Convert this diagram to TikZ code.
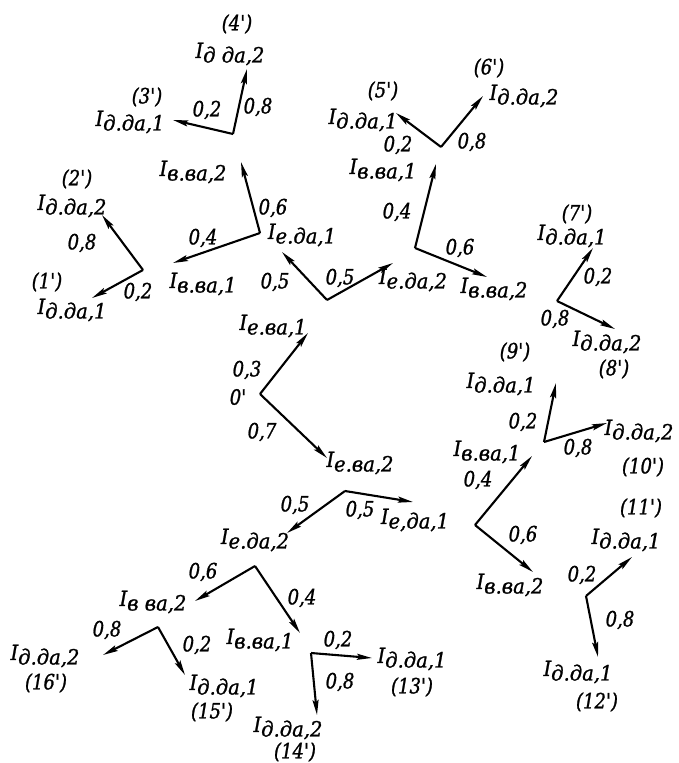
\documentclass[tikz,border=0pt]{standalone}
\usepackage{fontspec}
\setmainfont{DejaVu Serif}
\newfontfamily\gostfont{DejaVu Serif}[FakeBold=1.2]
\usetikzlibrary{arrows.meta}
\newcommand{\Lb}[1]{\scalebox{0.93}[1]{I\raisebox{-4.5pt}{#1}}}
\newcommand{\Nm}[1]{\scalebox{0.86}[1]{#1}}
\begin{document}
\begin{tikzpicture}[x=1pt,y=-1pt,
  arr/.style={line width=2.1pt,-{Stealth[length=15pt,width=6pt,inset=2.5pt]}},
  lab/.style={font=\gostfont\fontsize{21}{24}\selectfont\itshape,inner sep=0pt},
  num/.style={font=\gostfont\fontsize{21}{24}\selectfont\itshape,inner sep=0pt}]
\useasboundingbox (0,0) rectangle (679,763);
% ---------- O'
\coordinate (vA) at (260,394);
\coordinate (tA1) at (308,333);
\coordinate (tA2) at (327,458);
\draw[arr] (vA) -- (tA1);
\draw[arr] (vA) -- (tA2);
\node[num] (nA1) at (247,370) {\Nm{0,3}};
\node[num] (nA2) at (262,432) {\Nm{0,7}};
\node[num] (oA) at (238,397) {\Nm{0'}};
\node[lab] (lA1) at (273,326) {\Lb{е.ва,1}};
\node[lab] (lA2) at (360,463) {\Lb{е.ва,2}};
% ---------- B
\coordinate (vB) at (327,300);
\coordinate (tB1) at (282,252);
\coordinate (tB2) at (393,263);
\draw[arr] (vB) -- (tB1);
\draw[arr] (vB) -- (tB2);
\node[num] (nB1) at (275,282) {\Nm{0,5}};
\node[num] (nB2) at (340,278) {\Nm{0,5}};
\node[lab] (lB1) at (302,235) {\Lb{е.да,1}};
\node[lab] (lB2) at (413,280) {\Lb{е.да,2}};
% ---------- C
\coordinate (vC) at (260,233);
\coordinate (tC1) at (241,162);
\coordinate (tC2) at (173,263);
\draw[arr] (vC) -- (tC1);
\draw[arr] (vC) -- (tC2);
\node[num] (nC1) at (273,208) {\Nm{0,6}};
\node[num] (nC2) at (203,238) {\Nm{0,4}};
\node[lab] (lC1) at (193,172) {\Lb{в.ва,2}};
\node[lab] (lC2) at (203,284) {\Lb{в.ва,1}};
% ---------- D (1',2')
\coordinate (vD) at (143,270);
\coordinate (tD1) at (102,215);
\coordinate (tD2) at (92,298);
\draw[arr] (vD) -- (tD1);
\draw[arr] (vD) -- (tD2);
\node[num] (nD1) at (82,243) {\Nm{0,8}};
\node[num] (nD2) at (138,292) {\Nm{0,2}};
\node[lab] (lD1) at (72,206) {\Lb{д.да,2}};
\node[num] (pD1) at (77,179) {\Nm{(2')}};
\node[lab] (lD2) at (72,310) {\Lb{д.да,1}};
\node[num] (pD2) at (47,282) {\Nm{(1')}};
% ---------- E (3',4')
\coordinate (vE) at (233,134);
\coordinate (tE1) at (247,69);
\coordinate (tE2) at (173,120);
\draw[arr] (vE) -- (tE1);
\draw[arr] (vE) -- (tE2);
\node[num] (nE1) at (258,107) {\Nm{0,8}};
\node[num] (nE2) at (207,110) {\Nm{0,2}};
\node[lab] (lE1) at (230,54) {\Lb{д да,2}};
\node[num] (pE1) at (237,24) {\Nm{(4')}};
\node[lab] (lE2) at (130,122) {\Lb{д.да,1}};
\node[num] (pE2) at (147,97) {\Nm{(3')}};
% ---------- F
\coordinate (vF) at (415,248);
\coordinate (tF1) at (436,164);
\coordinate (tF2) at (487,277);
\draw[arr] (vF) -- (tF1);
\draw[arr] (vF) -- (tF2);
\node[num] (nF1) at (397,212) {\Nm{0,4}};
\node[num] (nF2) at (460,248) {\Nm{0,6}};
\node[lab] (lF1) at (383,170) {\Lb{в.ва,1}};
\node[lab] (lF2) at (494,289) {\Lb{в.ва,2}};
% ---------- G (5',6')
\coordinate (vG) at (441,147);
\coordinate (tG1) at (396,113);
\coordinate (tG2) at (483,96);
\draw[arr] (vG) -- (tG1);
\draw[arr] (vG) -- (tG2);
\node[num] (nG1) at (398,145) {\Nm{0,2}};
\node[num] (nG2) at (472,142) {\Nm{0,8}};
\node[lab] (lG1) at (363,120) {\Lb{д.да,1}};
\node[num] (pG1) at (383,91) {\Nm{(5')}};
\node[lab] (lG2) at (524,96) {\Lb{д.да,2}};
\node[num] (pG2) at (489,68) {\Nm{(6')}};
% ---------- H (7',8')
\coordinate (vH) at (557,301);
\coordinate (tH1) at (593,248);
\coordinate (tH2) at (615,329);
\draw[arr] (vH) -- (tH1);
\draw[arr] (vH) -- (tH2);
\node[num] (nH1) at (598,277) {\Nm{0,2}};
\node[num] (nH2) at (555,319) {\Nm{0,8}};
\node[lab] (lH1) at (572,236) {\Lb{д.да,1}};
\node[num] (pH1) at (577,214) {\Nm{(7')}};
\node[lab] (lH2) at (607,342) {\Lb{д.да,2}};
\node[num] (pH2) at (614,369) {\Nm{(8')}};
% ---------- I (9',10')
\coordinate (vI) at (544,442);
\coordinate (tI1) at (556,383);
\coordinate (tI2) at (607,423);
\draw[arr] (vI) -- (tI1);
\draw[arr] (vI) -- (tI2);
\node[num] (nI1) at (523,422) {\Nm{0,2}};
\node[num] (nI2) at (578,448) {\Nm{0,8}};
\node[lab] (lI1) at (501,384) {\Lb{д.да,1}};
\node[num] (pI1) at (515,352) {\Nm{(9')}};
\node[lab] (lI2) at (639,431) {\Lb{д.да,2}};
\node[num] (pI2) at (643,467) {\Nm{(10')}};
% ---------- J
\coordinate (vJ) at (475,525);
\coordinate (tJ1) at (532,456);
\coordinate (tJ2) at (533,572);
\draw[arr] (vJ) -- (tJ1);
\draw[arr] (vJ) -- (tJ2);
\node[num] (nJ1) at (478,480) {\Nm{0,4}};
\node[num] (nJ2) at (523,535) {\Nm{0,6}};
\node[lab] (lJ1) at (487,452) {\Lb{в.ва,1}};
\node[lab] (lJ2) at (510,585) {\Lb{в.ва,2}};
% ---------- K (11',12')
\coordinate (vK) at (586,596);
\coordinate (tK1) at (632,557);
\coordinate (tK2) at (598,657);
\draw[arr] (vK) -- (tK1);
\draw[arr] (vK) -- (tK2);
\node[num] (nK1) at (582,575) {\Nm{0,2}};
\node[num] (nK2) at (620,620) {\Nm{0,8}};
\node[lab] (lK1) at (626,540) {\Lb{д.да,1}};
\node[num] (pK1) at (641,508) {\Nm{(11')}};
\node[lab] (lK2) at (578,672) {\Lb{д.да,1}};
\node[num] (pK2) at (597,702) {\Nm{(12')}};
% ---------- L
\coordinate (vL) at (345,491);
\coordinate (tL1) at (413,502);
\coordinate (tL2) at (287,533);
\draw[arr] (vL) -- (tL1);
\draw[arr] (vL) -- (tL2);
\node[num] (nL1) at (360,510) {\Nm{0,5}};
\node[num] (nL2) at (295,505) {\Nm{0,5}};
\node[lab] (lL1) at (415,520) {\Lb{е,да,1}};
\node[lab] (lL2) at (255,540) {\Lb{е.да,2}};
% ---------- M
\coordinate (vM) at (255,566);
\coordinate (tM1) at (195,601);
\coordinate (tM2) at (300,633);
\draw[arr] (vM) -- (tM1);
\draw[arr] (vM) -- (tM2);
\node[num] (nM1) at (203,572) {\Nm{0,6}};
\node[num] (nM2) at (302,598) {\Nm{0,4}};
\node[lab] (lM1) at (153,602) {\Lb{в ва,2}};
\node[lab] (lM2) at (260,640) {\Lb{в.ва,1}};
% ---------- N (15',16')
\coordinate (vN) at (158,627);
\coordinate (tN1) at (103,655);
\coordinate (tN2) at (185,675);
\draw[arr] (vN) -- (tN1);
\draw[arr] (vN) -- (tN2);
\node[num] (nN1) at (107,630) {\Nm{0,8}};
\node[num] (nN2) at (197,645) {\Nm{0,2}};
\node[lab] (lN1) at (45,656) {\Lb{д.да,2}};
\node[num] (pN1) at (46,683) {\Nm{(16')}};
\node[lab] (lN2) at (224,686) {\Lb{д.да,1}};
\node[num] (pN2) at (212,712) {\Nm{(15')}};
% ---------- O (13',14')
\coordinate (vO) at (311,653);
\coordinate (tO1) at (372,658);
\coordinate (tO2) at (317,715);
\draw[arr] (vO) -- (tO1);
\draw[arr] (vO) -- (tO2);
\node[num] (nO1) at (338,640) {\Nm{0,2}};
\node[num] (nO2) at (340,682) {\Nm{0,8}};
\node[lab] (lO1) at (412,659) {\Lb{д.да,1}};
\node[num] (pO1) at (412,687) {\Nm{(13')}};
\node[lab] (lO2) at (288,728) {\Lb{д.да,2}};
\node[num] (pO2) at (295,752) {\Nm{(14')}};
\end{tikzpicture}
\end{document}
